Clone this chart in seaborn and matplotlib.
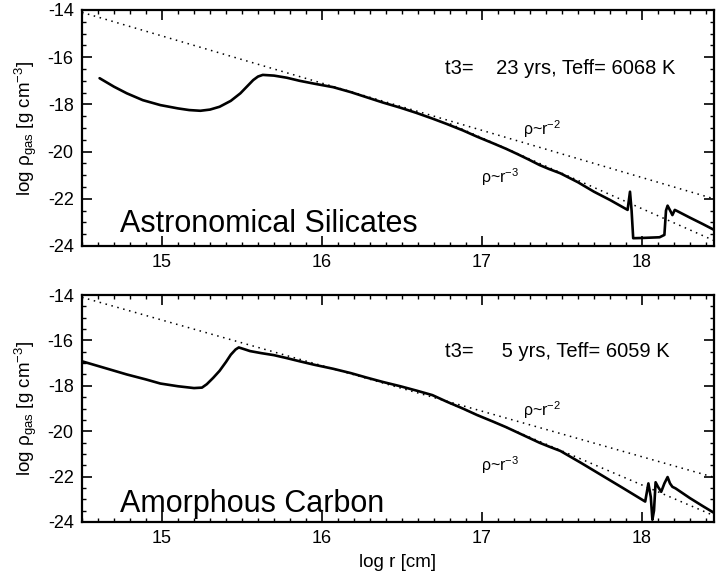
import matplotlib
matplotlib.use("Agg")
import matplotlib.pyplot as plt
from matplotlib.ticker import MultipleLocator
import seaborn as sns
import pandas as pd

# Density profiles (log r [cm], log rho_gas [g cm^-3])
sil_logr = [14.61, 14.70, 14.78, 14.88, 14.99, 15.10, 15.17, 15.24, 15.30, 15.36,
            15.43, 15.49, 15.53, 15.57, 15.60, 15.63, 15.70, 15.78, 15.86, 15.95,
            16.07, 16.18, 16.28, 16.38, 16.49, 16.59, 16.69, 16.78, 16.88, 16.97,
            17.07, 17.15, 17.22, 17.29, 17.36, 17.42, 17.49, 17.60, 17.70, 17.80,
            17.91, 17.925, 17.935, 17.945, 18.00, 18.11, 18.14, 18.15, 18.16, 18.18,
            18.19, 18.205, 18.22, 18.30, 18.38, 18.46]
sil_logrho = [-16.89, -17.25, -17.53, -17.82, -18.03, -18.17, -18.24, -18.27, -18.22, -18.10,
              -17.85, -17.53, -17.25, -16.97, -16.82, -16.75, -16.78, -16.87, -17.00, -17.12,
              -17.27, -17.48, -17.70, -17.92, -18.14, -18.36, -18.60, -18.83, -19.10, -19.37,
              -19.65, -19.88, -20.10, -20.33, -20.57, -20.74, -20.92, -21.30, -21.70, -22.05,
              -22.47, -21.70, -22.50, -23.67, -23.66, -23.63, -23.53, -22.50, -22.29, -22.55,
              -22.69, -22.47, -22.52, -22.80, -23.07, -23.35]

carb_logr = [14.50, 14.65, 14.78, 14.90, 14.99, 15.10, 15.20, 15.25, 15.28, 15.32,
             15.36, 15.40, 15.43, 15.46, 15.48, 15.52, 15.55, 15.62, 15.70, 15.78,
             15.86, 15.95, 16.07, 16.18, 16.28, 16.38, 16.49, 16.59, 16.69, 16.78,
             16.88, 16.97, 17.07, 17.15, 17.22, 17.29, 17.36, 17.42, 17.49, 17.62,
             17.75, 17.88, 18.02, 18.04, 18.055, 18.065, 18.075, 18.085, 18.10, 18.12,
             18.14, 18.16, 18.175, 18.19, 18.21, 18.30, 18.38, 18.46]
carb_logrho = [-16.92, -17.23, -17.50, -17.72, -17.90, -18.02, -18.10, -18.08, -17.93, -17.65,
               -17.34, -16.95, -16.63, -16.40, -16.31, -16.40, -16.47, -16.56, -16.65, -16.78,
               -16.92, -17.07, -17.25, -17.44, -17.64, -17.83, -18.02, -18.21, -18.41, -18.70,
               -19.00, -19.29, -19.58, -19.82, -20.05, -20.28, -20.51, -20.68, -20.87, -21.40,
               -21.95, -22.50, -23.10, -22.30, -22.90, -23.90, -23.50, -22.25, -22.45, -22.67,
               -22.30, -22.02, -22.30, -22.45, -22.52, -22.95, -23.30, -23.64]

# power law guide lines (end points)
r2_logr = [14.50, 18.46]
sil_r2 = [-14.10, -22.02]
carb_r2 = [-14.10, -22.05]
r3_logr = [16.80, 18.46]
sil_r3 = [-18.82, -23.80]
carb_r3 = [-18.77, -23.75]

panels = [
    dict(name="Astronomical Silicates", info="t3=    23 yrs, Teff= 6068 K",
         x=sil_logr, y=sil_logrho, r2=sil_r2, r3=sil_r3,
         rect=[0.1145, 0.5744, 0.8827, 0.4083], info_y=0.754,
         r2_pos=(0.698, 0.496), r3_pos=(0.631, 0.292), name_y=0.059),
    dict(name="Amorphous Carbon", info="t3=     5 yrs, Teff= 6059 K",
         x=carb_logr, y=carb_logrho, r2=carb_r2, r3=carb_r3,
         rect=[0.1145, 0.0969, 0.8827, 0.3927], info_y=0.749,
         r2_pos=(0.698, 0.493), r3_pos=(0.631, 0.251), name_y=0.045),
]

sns.set_theme(style="ticks")
plt.rcParams["font.family"] = ["Liberation Sans", "DejaVu Sans"]
plt.rcParams["mathtext.fontset"] = "custom"
plt.rcParams["mathtext.rm"] = "Liberation Sans"
plt.rcParams["mathtext.it"] = "Liberation Sans:italic"
plt.rcParams["axes.unicode_minus"] = False
plt.rcParams["text.color"] = "black"
plt.rcParams["axes.labelcolor"] = "black"

fig = plt.figure(figsize=(7.16, 5.78), dpi=100)

for i, p in enumerate(panels):
    ax = fig.add_axes(p["rect"])
    df = pd.DataFrame({"logr": p["x"], "logrho": p["y"]})
    sns.lineplot(data=df, x="logr", y="logrho", sort=False, color="black", lw=1.9, ax=ax)
    sns.lineplot(x=r2_logr, y=p["r2"], color="black", lw=1.1, ls=(0, (1, 3)), ax=ax)
    sns.lineplot(x=r3_logr, y=p["r3"], color="black", lw=1.1, ls=(0, (1, 3)), ax=ax)

    ax.set_xlim(14.5, 18.45)
    ax.set_ylim(-24, -14)
    ax.xaxis.set_major_locator(MultipleLocator(1))
    ax.xaxis.set_minor_locator(MultipleLocator(0.1))
    ax.yaxis.set_major_locator(MultipleLocator(2))
    ax.yaxis.set_minor_locator(MultipleLocator(0.5))
    ax.tick_params(which="both", direction="in", top=True, right=True, color="black",
                   labelsize=13, labelcolor="black")
    ax.tick_params(which="major", length=7, width=1.2, pad=6)
    ax.tick_params(which="minor", length=3, width=1.0)
    for s in ax.spines.values():
        s.set_linewidth(1.6)
        s.set_color("black")

    ax.set_ylabel(r"log ρ$_{\rm gas}$ [g cm$^{-3}$]", fontsize=13.5, labelpad=6)
    if i == 1:
        ax.set_xlabel("log r [cm]", fontsize=13.5, labelpad=5)
    else:
        ax.set_xlabel("")

    ax.text(0.574, p["info_y"], p["info"], transform=ax.transAxes,
            fontsize=14.5, va="center", ha="left")
    ax.text(*p["r2_pos"], r"ρ~r$^{-2}$", transform=ax.transAxes, fontsize=11.5, va="center")
    ax.text(*p["r3_pos"], r"ρ~r$^{-3}$", transform=ax.transAxes, fontsize=11.5, va="center")
    ax.text(0.06, p["name_y"], p["name"], transform=ax.transAxes, fontsize=22,
            va="baseline", ha="left")

fig.savefig("out.png", dpi=100)
